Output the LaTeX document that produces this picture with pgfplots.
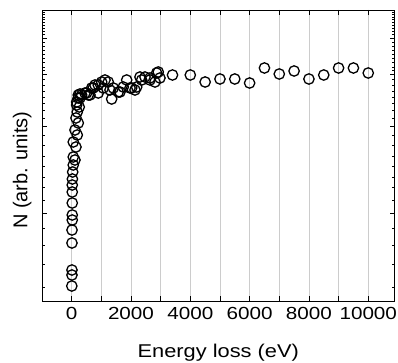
\documentclass[border=0pt]{standalone}
\usepackage{pgfplots}
\pgfplotsset{compat=1.18}
\usepackage{pgfplotstable}
\usepackage{fontspec}
\setmainfont{Liberation Sans}
\newfontfamily\widefont[FakeStretch=1.18]{Liberation Sans}
\pgfplotstableread{
x y
5 15
10 26
10 31
10 58
12 71
20 81
20 86
20 98
20 109
20 116
25 122
34 129
54 136
111 141
54 144
145 154
54 159
189 166
111 171
223 178
145 183
189 189
256 194
169 199
169 196
223 203
280 203
223 206
337 206
280 207
448 208
506 208
560 206
617 206
674 213
728 213
786 216
897 216
897 208
1012 219
1066 213
1123 221
1234 219
1291 211
1349 202
1403 213
1571 209
1629 209
1740 214
1855 221
1966 213
2023 213
2134 211
2192 214
2303 224
2360 221
2472 224
2640 221
2640 223
2809 219
2866 228
2920 229
2977 223
3400 226
4000 226
4500 219
5000 222
5500 222
6000 218
6500 233
7000 227
7500 230
8000 222
8500 226
9000 233
9500 233
10000 228
}\data
\begin{document}
\begin{tikzpicture}[x=1pt,y=1pt]
\begin{axis}[
  at={(42pt,62pt)}, anchor=south west,
  scale only axis, width=352.5pt, height=291pt,
  xmin=-1000, xmax=10885, ymin=0, ymax=291,
  axis line style={black, line width=0.9pt},
  tick style={black, line width=0.8pt},
  tick align=inside,
  major tick length=5pt, minor tick length=3pt,
  scaled x ticks=false,
  xtick={0,1000,...,10000},
  xticklabels={0,,2000,,4000,,6000,,8000,,10000},
  xmajorgrids,
  major x grid style={gray!40, line width=0.6pt},
  ytick={88,175,227,263},
  yticklabels={},
  minor ytick={289,286.5,284,281.5,279,276,273,270,266.5,259,255,251,247,243,238.5,234,230.5,221.5,216,210,204,197.5,190.5,183,166,155.3,144.3,134.3,123.7,113.3,101,72.7,56,36.7,13.7},
  xticklabel style={font=\widefont\fontsize{17.5}{20}\selectfont, yshift=-3pt},
  xlabel={Energy loss (eV)},
  xlabel style={font=\widefont\fontsize{18.5}{22}\selectfont, at={(axis description cs:0.5,0)}, anchor=north, yshift=-40pt},
  ylabel={N (arb. units)},
  ylabel style={font=\fontsize{20}{24}\selectfont, at={(ticklabel cs:0.45)}},
]
\addplot[only marks, mark=o, mark size=5.2pt, mark options={line width=1.3pt, black}] table[x=x,y=y] {\data};
\end{axis}
\pgfresetboundingbox
\useasboundingbox (0,0) rectangle (398pt,363pt);
\end{tikzpicture}
\end{document}
